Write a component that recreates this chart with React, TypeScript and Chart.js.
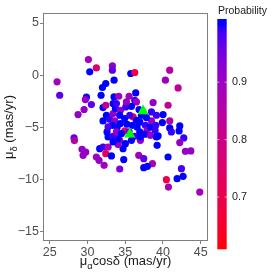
import React, { useEffect, useRef } from 'react';
import { Chart, registerables } from 'chart.js';
Chart.register(...registerables);

// Proper motion in RA (mas/yr)
const pmra = [
  25.97, 26.32, 30.12, 30.30, 31.18, 33.30, 33.30, 33.52, 35.73, 36.26,
  40.32, 40.89, 42.00, 32.42, 31.98, 31.80, 29.86, 29.72, 30.52, 29.55,
  28.75, 33.52, 34.14, 35.51, 36.39, 36.26, 36.48, 33.39, 32.06, 32.42,
  38.69, 40.67, 40.01, 40.89, 39.92, 39.13, 42.22, 42.13, 40.89, 41.11,
  39.35, 42.75, 42.22, 42.97, 43.68, 40.67, 36.79, 37.45, 38.60, 37.45,
  37.94, 34.80, 42.44, 42.66, 41.87, 40.45, 40.72, 44.87, 39.22, 34.27,
  28.22, 28.27, 29.28, 29.77, 29.42, 31.18, 31.53, 31.62, 32.06, 32.73,
  32.42, 33.17, 32.20, 34.27, 34.71, 34.05, 34.05, 35.02, 37.01,
  36.04, 34.93,
  32.51, 32.95, 33.61, 33.30, 32.59, 32.73, 33.39, 33.92, 34.36, 34.93,
  35.60, 35.24, 35.95, 36.57, 36.92, 37.67, 37.89, 38.33, 38.47, 36.92,
  36.26, 37.01, 37.63, 38.33, 38.95, 35.82, 33.83, 34.49, 33.39, 33.70,
  34.36, 35.07, 35.82, 36.83, 37.80, 38.47, 39.04, 33.39, 36.48, 35.16,
  34.27, 32.73, 32.06, 35.51, 33.83, 37.14, 39.13,
];
// Proper motion in Dec (mas/yr)
const pmdec = [
  -0.64, -1.92, 1.50, 0.32, 0.70, 0.90, 0.48, -0.48, 0.16, 0.26,
  -0.48, 0.48, -1.22, -0.80, -1.18, -1.92, -2.11, -2.34, -2.82, -3.29,
  -3.77, -2.08, -2.02, -2.02, -1.70, -2.40, -2.56, -2.72, -3.10, -2.88,
  -2.62, -2.88, -3.77, -4.38, -4.54, -3.84, -4.86, -5.34, -5.05, -5.44,
  -5.82, -6.01, -6.46, -7.29, -7.26, -7.84, -7.68, -8.00, -8.48, -8.86,
  -8.73, -8.09, -8.96, -9.69, -9.92, -10.01, -10.72, -11.20, -6.72, -8.99,
  -6.01, -6.27, -7.10, -7.36, -7.68, -7.84, -8.16, -7.04, -6.88, -6.88,
  -7.52, -7.74, -8.64, -6.24, -7.04, -6.65, -6.08, -6.56, -6.24,
  -4.00, -5.34,
  -3.84, -4.22, -4.38, -4.80, -5.44, -5.92, -5.85, -5.02, -4.64, -4.16,
  -3.84, -4.70, -4.80, -4.96, -4.48, -4.80, -5.28, -4.96, -4.38, -5.44,
  -5.85, -5.92, -5.66, -5.76, -5.28, -6.24, -5.44, -5.60, -3.68, -3.20,
  -3.36, -3.04, -2.98, -3.29, -4.06, -3.52, -4.80, -6.40, -4.32, -2.56,
  -3.84, -4.96, -4.38, -5.44, -2.72, -3.84, -5.92,
];
// Membership probability
const prob = [
  0.89, 0.97, 0.89, 1.00, 0.75, 0.91, 0.97, 1.00, 1.00, 0.68,
  0.90, 0.85, 0.83, 1.00, 1.00, 1.00, 1.00, 0.91, 0.97, 0.91,
  0.91, 1.00, 0.89, 0.89, 1.00, 0.99, 0.89, 1.00, 1.00, 0.82,
  0.91, 0.83, 1.00, 0.86, 1.00, 0.99, 1.00, 1.00, 1.00, 0.99,
  1.00, 0.99, 0.91, 0.91, 0.91, 1.00, 0.89, 0.97, 0.87, 1.00,
  1.00, 1.00, 0.98, 1.00, 1.00, 0.70, 0.89, 0.89, 1.00, 0.94,
  0.97, 0.85, 0.91, 0.91, 0.91, 0.89, 0.91, 1.00, 0.99, 0.89,
  0.72, 1.00, 0.89, 0.89, 1.00, 0.91, 1.00, 1.00, 0.91,
  0.65, 0.70,
  1.00, 0.99, 0.91, 1.00, 1.00, 1.00, 0.99, 1.00, 1.00, 1.00,
  0.99, 1.00, 1.00, 1.00, 1.00, 0.99, 0.89, 1.00, 0.91, 1.00,
  0.99, 1.00, 1.00, 0.91, 0.99, 1.00, 0.91, 1.00, 0.91, 1.00,
  0.91, 0.99, 1.00, 1.00, 1.00, 0.99, 0.99, 1.00, 1.00, 0.91,
  1.00, 0.98, 1.00, 0.97, 0.99, 1.00, 1.00,
];
// Highlighted objects (green triangles)
const triPmra = [37.36, 35.6];
const triPmdec = [-3.42, -5.66];

const xTicks = [25, 30, 35, 40, 45];
const yTicks = [-15, -10, -5, 0, 5];
const xRange = [24.11, 45.96];
const yRange = [-15.89, 5.96];
const cbTicks = [0.7, 0.8, 0.9];
const probMin = 0.609;
const probMax = 1.0;
const cbBottomValue = 0.609;
const cbTopValue = 1.01;

const FONT = 'Liberation Sans, Arial, Helvetica, sans-serif';

function toLin(c: number) { c /= 255; return c <= 0.04045 ? c / 12.92 : Math.pow((c + 0.055) / 1.055, 2.4); }
function fromLin(v: number) {
  const c = v <= 0.0031308 ? 12.92 * v : 1.055 * Math.pow(v, 1 / 2.4) - 0.055;
  return Math.round(Math.max(0, Math.min(1, c)) * 255);
}
const XN = 0.95047, YN = 1, ZN = 1.08883;
function rgbToLab(rgb: number[]) {
  const R = toLin(rgb[0]), G = toLin(rgb[1]), B = toLin(rgb[2]);
  const X = (0.4124 * R + 0.3576 * G + 0.1805 * B) / XN;
  const Y = (0.2126 * R + 0.7152 * G + 0.0722 * B) / YN;
  const Z = (0.0193 * R + 0.1192 * G + 0.9505 * B) / ZN;
  const f = (t: number) => (t > 0.008856 ? Math.cbrt(t) : 7.787 * t + 16 / 116);
  const fx = f(X), fy = f(Y), fz = f(Z);
  return [116 * fy - 16, 500 * (fx - fy), 200 * (fy - fz)];
}
function labToRgb(lab: number[]) {
  const fy = (lab[0] + 16) / 116, fx = fy + lab[1] / 500, fz = fy - lab[2] / 200;
  const fi = (t: number) => (t * t * t > 0.008856 ? t * t * t : (t - 16 / 116) / 7.787);
  const X = fi(fx) * XN, Y = fi(fy) * YN, Z = fi(fz) * ZN;
  const R = 3.2406 * X - 1.5372 * Y - 0.4986 * Z;
  const G = -0.9689 * X + 1.8758 * Y + 0.0415 * Z;
  const B = 0.0557 * X - 0.204 * Y + 1.057 * Z;
  return [fromLin(R), fromLin(G), fromLin(B)];
}
const LAB_LO = rgbToLab([255, 0, 0]);
const LAB_HI = rgbToLab([0, 0, 255]);
function cmap(v: number) {
  const t = Math.max(0, Math.min(1, (v - probMin) / (probMax - probMin)));
  const lab = [0, 1, 2].map((i) => LAB_LO[i] + (LAB_HI[i] - LAB_LO[i]) * t);
  const c = labToRgb(lab);
  return `rgb(${c[0]},${c[1]},${c[2]})`;
}

type Part = { t: string; sub?: boolean };
function drawParts(ctx: CanvasRenderingContext2D, parts: Part[], cx: number, y: number, size: number) {
  const subSize = size * 0.72;
  let total = 0;
  const widths = parts.map((p) => {
    ctx.font = `${p.sub ? subSize : size}px ${FONT}`;
    const w = ctx.measureText(p.t).width;
    total += w;
    return w;
  });
  let x = cx - total / 2;
  ctx.textAlign = 'left';
  ctx.textBaseline = 'alphabetic';
  parts.forEach((p, i) => {
    ctx.font = `${p.sub ? subSize : size}px ${FONT}`;
    ctx.fillText(p.t, x, p.sub ? y + size * 0.28 : y);
    x += widths[i];
  });
}

const decor = {
  id: 'decor',
  afterDraw(chart: any) {
    const ctx: CanvasRenderingContext2D = chart.ctx;
    const a = chart.chartArea;
    ctx.save();
    ctx.strokeStyle = '#7f7f7f';
    ctx.lineWidth = 1;
    ctx.strokeRect(Math.round(a.left) + 0.5, Math.round(a.top) + 0.5, Math.round(a.right - a.left) - 1, Math.round(a.bottom - a.top) - 1);
    ctx.fillStyle = '#1a1a1a';
    drawParts(ctx, [{ t: 'μ' }, { t: 'α', sub: true }, { t: 'cosδ (mas/yr)' }], (a.left + a.right) / 2, 265, 13);
    ctx.save();
    ctx.translate(13, (a.top + a.bottom) / 2);
    ctx.rotate(-Math.PI / 2);
    drawParts(ctx, [{ t: 'μ' }, { t: 'δ', sub: true }, { t: ' (mas/yr)' }], 0, 0, 13);
    ctx.restore();
    // colorbar
    const bx = 217.3, bw = 9.4, btop = 19, bbot = 249.3;
    const yOf = (v: number) => bbot - ((v - cbBottomValue) / (cbTopValue - cbBottomValue)) * (bbot - btop);
    for (let y = btop; y < bbot; y += 1) {
      const v = cbBottomValue + ((bbot - (y + 0.5)) / (bbot - btop)) * (cbTopValue - cbBottomValue);
      ctx.fillStyle = cmap(v);
      ctx.fillRect(bx, y, bw, Math.min(1, bbot - y));
    }
    ctx.strokeStyle = 'rgba(255,255,255,0.8)';
    ctx.lineWidth = 0.8;
    cbTicks.forEach((v) => {
      const y = yOf(v);
      ctx.beginPath();
      ctx.moveTo(bx, y); ctx.lineTo(bx + 2, y);
      ctx.moveTo(bx + bw - 2, y); ctx.lineTo(bx + bw, y);
      ctx.stroke();
    });
    ctx.fillStyle = '#1a1a1a';
    ctx.font = `10.8px ${FONT}`;
    ctx.textAlign = 'left';
    ctx.textBaseline = 'middle';
    cbTicks.forEach((v) => ctx.fillText(v.toFixed(1), 232, yOf(v)));
    ctx.font = `10.5px ${FONT}`;
    ctx.textBaseline = 'alphabetic';
    ctx.fillText('Probability', 218, 14);
    ctx.restore();
  },
};

export default function App() {
  const ref = useRef<HTMLCanvasElement>(null);
  useEffect(() => {
    if (!ref.current) return;
    Chart.defaults.font.family = FONT;
    const chart = new Chart(ref.current, {
      type: 'scatter',
      data: {
        datasets: [
          {
            data: triPmra.map((x, i) => ({ x, y: triPmdec[i] })),
            backgroundColor: '#00ff00',
            borderWidth: 0,
            pointStyle: 'triangle',
            pointRadius: 6.5,
            pointHoverRadius: 6.5,
            order: 0,
          },
          {
            data: pmra.map((x, i) => ({ x, y: pmdec[i] })),
            backgroundColor: prob.map(cmap),
            borderWidth: 0,
            pointRadius: 3.6,
            pointHoverRadius: 3.6,
            order: 1,
          },
        ],
      },
      options: {
        animation: false,
        responsive: false,
        maintainAspectRatio: false,
        layout: { padding: { top: 13, right: 66, left: 0, bottom: 0 } },
        plugins: { legend: { display: false }, tooltip: { enabled: false } },
        scales: {
          x: {
            type: 'linear',
            min: xRange[0],
            max: xRange[1],
            afterBuildTicks: (s: any) => { s.ticks = xTicks.map((v) => ({ value: v })); },
            afterFit: (s: any) => { s.height = 33; },
            grid: { display: true, drawOnChartArea: false, tickLength: 3, color: '#7f7f7f' },
            border: { display: false },
            ticks: { color: '#4d4d4d', font: { size: 12.5, family: FONT }, padding: 1, maxRotation: 0, autoSkip: false, callback: (v: any) => String(v) },
          },
          y: {
            type: 'linear',
            min: yRange[0],
            max: yRange[1],
            afterBuildTicks: (s: any) => { s.ticks = yTicks.map((v) => ({ value: v })); },
            afterFit: (s: any) => { s.width = 43; },
            grid: { display: true, drawOnChartArea: false, tickLength: 3, color: '#7f7f7f' },
            border: { display: false },
            ticks: { color: '#4d4d4d', font: { size: 12.5, family: FONT }, padding: 1, autoSkip: false, callback: (v: any) => String(v).replace('-', '\u2212') },
          },
        },
      },
      plugins: [decor],
    });
    return () => chart.destroy();
  }, []);
  return (
    <div style={{ position: 'absolute', left: 0, top: 0, width: 274, height: 274, background: '#fff' }}>
      <canvas ref={ref} width={274} height={274} style={{ width: 274, height: 274, display: 'block' }} />
    </div>
  );
}
